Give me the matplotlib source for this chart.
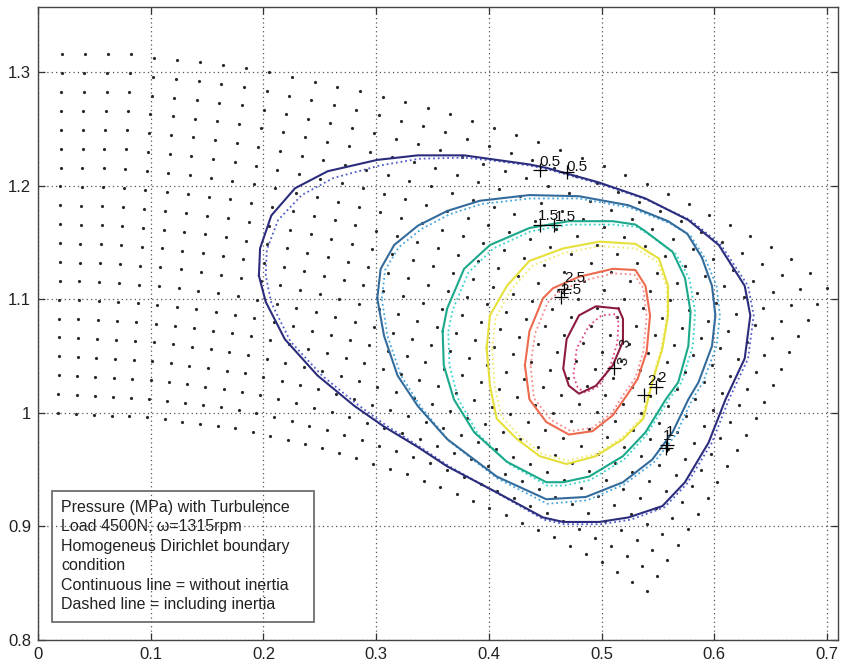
import matplotlib
matplotlib.use("Agg")

import matplotlib.pyplot as plt
from matplotlib.patches import Rectangle
import numpy as np

plt.rcParams['font.family'] = ['Liberation Sans', 'DejaVu Sans']

# ---- mesh boundary (node grid of the bearing film) ----
mesh_left_x = [0.018, 0.021]
mesh_left_y = [1.000, 1.316]
mesh_top_x = [0.021, 0.083, 0.103, 0.145, 0.186, 0.206, 0.288, 0.369, 0.448, 0.508, 0.565, 0.621, 0.675, 0.700]
mesh_top_y = [1.316, 1.316, 1.313, 1.309, 1.304, 1.300, 1.283, 1.263, 1.237, 1.216, 1.190, 1.162, 1.132, 1.110]
mesh_right_x = [0.540, 0.567, 0.601, 0.634, 0.670, 0.700]
mesh_right_y = [0.843, 0.883, 0.936, 0.990, 1.060, 1.110]
mesh_bottom_x = [0.018, 0.100, 0.180, 0.250, 0.325, 0.383, 0.457, 0.501, 0.540]
mesh_bottom_y = [1.000, 0.996, 0.986, 0.970, 0.947, 0.924, 0.891, 0.868, 0.843]
n_cols = 36
n_rows = 20

# ---- pressure contours (MPa): solid = without inertia, dotted = with inertia ----
levels = [0.5, 1.0, 1.5, 2.0, 2.5, 3.0]

x05 = [0.196, 0.197, 0.207, 0.228, 0.257, 0.301, 0.337, 0.378, 0.407, 0.436, 0.451, 0.498, 0.539, 0.577, 0.604, 0.627, 0.632, 0.627, 0.610, 0.595, 0.574, 0.554, 0.524, 0.498, 0.466, 0.448, 0.407, 0.363, 0.337, 0.307, 0.281, 0.248, 0.219, 0.202, 0.196]
y05 = [1.121, 1.145, 1.174, 1.198, 1.213, 1.223, 1.227, 1.227, 1.223, 1.219, 1.216, 1.203, 1.189, 1.170, 1.148, 1.112, 1.086, 1.048, 1.012, 0.974, 0.939, 0.918, 0.908, 0.904, 0.904, 0.908, 0.930, 0.953, 0.970, 0.988, 1.006, 1.033, 1.065, 1.098, 1.121]
xd05 = [0.202, 0.203, 0.213, 0.234, 0.262, 0.303, 0.338, 0.378, 0.407, 0.436, 0.451, 0.498, 0.540, 0.579, 0.606, 0.630, 0.635, 0.630, 0.613, 0.598, 0.576, 0.556, 0.526, 0.499, 0.467, 0.449, 0.408, 0.365, 0.339, 0.309, 0.284, 0.252, 0.224, 0.207, 0.202]
yd05 = [1.121, 1.144, 1.170, 1.192, 1.207, 1.218, 1.224, 1.225, 1.222, 1.218, 1.215, 1.202, 1.188, 1.170, 1.148, 1.112, 1.086, 1.048, 1.012, 0.974, 0.938, 0.917, 0.906, 0.902, 0.902, 0.906, 0.929, 0.953, 0.970, 0.989, 1.007, 1.033, 1.063, 1.097, 1.121]

x10 = [0.301, 0.304, 0.316, 0.337, 0.363, 0.392, 0.436, 0.480, 0.524, 0.559, 0.576, 0.589, 0.598, 0.601, 0.598, 0.586, 0.577, 0.563, 0.545, 0.519, 0.486, 0.451, 0.407, 0.363, 0.337, 0.319, 0.307, 0.301]
y10 = [1.101, 1.127, 1.148, 1.165, 1.178, 1.187, 1.192, 1.191, 1.183, 1.169, 1.158, 1.137, 1.112, 1.086, 1.059, 1.027, 1.012, 0.983, 0.959, 0.939, 0.926, 0.924, 0.944, 0.977, 1.006, 1.033, 1.068, 1.101]
xd10 = [0.305, 0.308, 0.320, 0.340, 0.365, 0.393, 0.436, 0.480, 0.525, 0.561, 0.579, 0.592, 0.602, 0.605, 0.602, 0.590, 0.580, 0.566, 0.547, 0.520, 0.487, 0.452, 0.408, 0.365, 0.340, 0.322, 0.310, 0.305]
yd10 = [1.101, 1.126, 1.146, 1.162, 1.175, 1.184, 1.189, 1.189, 1.181, 1.167, 1.156, 1.136, 1.112, 1.086, 1.059, 1.027, 1.011, 0.981, 0.957, 0.937, 0.923, 0.920, 0.942, 0.975, 1.005, 1.033, 1.068, 1.101]

x15 = [0.359, 0.363, 0.378, 0.401, 0.436, 0.471, 0.510, 0.530, 0.539, 0.563, 0.574, 0.579, 0.577, 0.568, 0.557, 0.539, 0.519, 0.489, 0.466, 0.451, 0.416, 0.387, 0.369, 0.360, 0.359]
y15 = [1.072, 1.092, 1.127, 1.148, 1.163, 1.169, 1.169, 1.166, 1.160, 1.142, 1.119, 1.089, 1.059, 1.027, 1.012, 0.983, 0.962, 0.944, 0.939, 0.939, 0.957, 0.983, 1.012, 1.042, 1.072]
xd15 = [0.364, 0.368, 0.382, 0.404, 0.437, 0.471, 0.510, 0.531, 0.541, 0.566, 0.578, 0.583, 0.581, 0.571, 0.559, 0.540, 0.520, 0.490, 0.467, 0.452, 0.418, 0.390, 0.373, 0.365, 0.364]
yd15 = [1.072, 1.091, 1.124, 1.145, 1.160, 1.166, 1.166, 1.164, 1.158, 1.140, 1.118, 1.089, 1.059, 1.027, 1.011, 0.981, 0.959, 0.941, 0.936, 0.936, 0.955, 0.982, 1.012, 1.042, 1.072]

x20 = [0.398, 0.401, 0.416, 0.436, 0.466, 0.498, 0.530, 0.551, 0.559, 0.559, 0.554, 0.545, 0.537, 0.519, 0.495, 0.469, 0.445, 0.425, 0.407, 0.401, 0.398]
y20 = [1.057, 1.086, 1.112, 1.134, 1.145, 1.151, 1.149, 1.136, 1.112, 1.086, 1.057, 1.027, 0.995, 0.977, 0.962, 0.955, 0.962, 0.977, 0.995, 1.024, 1.057]
xd20 = [0.403, 0.406, 0.420, 0.439, 0.467, 0.498, 0.530, 0.550, 0.558, 0.558, 0.553, 0.544, 0.536, 0.518, 0.495, 0.470, 0.447, 0.428, 0.411, 0.405, 0.403]
yd20 = [1.057, 1.084, 1.109, 1.130, 1.141, 1.147, 1.145, 1.133, 1.110, 1.085, 1.057, 1.027, 0.996, 0.978, 0.964, 0.958, 0.964, 0.979, 0.997, 1.025, 1.057]

x25 = [0.432, 0.436, 0.448, 0.457, 0.480, 0.510, 0.530, 0.539, 0.543, 0.540, 0.532, 0.522, 0.510, 0.492, 0.471, 0.451, 0.436, 0.432]
y25 = [1.042, 1.072, 1.101, 1.110, 1.120, 1.127, 1.126, 1.112, 1.086, 1.054, 1.030, 1.015, 0.998, 0.984, 0.981, 0.992, 1.012, 1.042]
xd25 = [0.437, 0.441, 0.452, 0.461, 0.482, 0.510, 0.529, 0.537, 0.540, 0.537, 0.530, 0.520, 0.509, 0.492, 0.473, 0.455, 0.440, 0.437]
yd25 = [1.042, 1.070, 1.097, 1.106, 1.116, 1.123, 1.122, 1.110, 1.085, 1.054, 1.031, 1.017, 1.000, 0.987, 0.984, 0.994, 1.013, 1.042]

x30 = [0.515, 0.495, 0.480, 0.469, 0.466, 0.471, 0.480, 0.495, 0.510, 0.519, 0.519, 0.515]
y30 = [1.092, 1.094, 1.086, 1.065, 1.039, 1.024, 1.017, 1.024, 1.042, 1.063, 1.083, 1.092]
xd30 = [0.512, 0.500, 0.489, 0.478, 0.475, 0.479, 0.486, 0.498, 0.508, 0.514, 0.515, 0.512]
yd30 = [1.087, 1.086, 1.077, 1.057, 1.033, 1.022, 1.018, 1.024, 1.042, 1.062, 1.080, 1.087]

solid_colors = ['#2b2d7c', '#336c9c', '#1aa98a', '#e6e03a', '#ee6a4e', '#8c1c3e']
dotted_colors = ['#4f5cc8', '#45a6dc', '#35d2cc', '#f0ea70', '#f58a8a', '#e0488a']

# clabel positions: (text x, text y, rotation) and '+' marks
label_text = ['0.5', '0.5', '1.5', '1.5', '2.5', '2.5', '2', '2', '3', '3', '1', '1']
label_x = [0.454, 0.478, 0.453, 0.468, 0.476, 0.473, 0.544, 0.553, 0.519, 0.521, 0.558, 0.561]
label_y = [1.221, 1.217, 1.174, 1.173, 1.119, 1.108, 1.028, 1.031, 1.046, 1.062, 0.980, 0.983]
label_rot = [0, 0, 0, 0, 0, 0, 0, 0, 78, 78, 0, 0]
plus_x = [0.445, 0.469, 0.445, 0.458, 0.464, 0.467, 0.538, 0.548, 0.511, 0.557, 0.558]
plus_y = [1.214, 1.212, 1.166, 1.166, 1.102, 1.109, 1.016, 1.023, 1.040, 0.969, 0.972]

x_ticks = [0, 0.1, 0.2, 0.3, 0.4, 0.5, 0.6, 0.7]
x_ticklabels = ['0', '0.1', '0.2', '0.3', '0.4', '0.5', '0.6', '0.7']
y_ticks = [0.8, 0.9, 1.0, 1.1, 1.2, 1.3]
y_ticklabels = ['0.8', '0.9', '1', '1.1', '1.2', '1.3']

info_lines = [
    "Pressure (MPa) with Turbulence",
    "Load 4500N; \u03c9=1315rpm",
    "Homogeneus Dirichlet boundary",
    "condition",
    "Continuous line = without inertia",
    "Dashed line = including inertia",
]


def resample(xs, ys, n):
    # spread n nodes evenly along a boundary polyline
    xs = np.asarray(xs, float)
    ys = np.asarray(ys, float)
    s = np.concatenate([[0], np.cumsum(np.hypot(np.diff(xs), np.diff(ys)))])
    t = np.linspace(0, s[-1], n)
    return np.column_stack([np.interp(t, s, xs), np.interp(t, s, ys)])


def mesh_nodes():
    B = resample(mesh_bottom_x, mesh_bottom_y, n_cols)
    T = resample(mesh_top_x, mesh_top_y, n_cols)
    L = resample(mesh_left_x, mesh_left_y, n_rows)
    R = resample(mesh_right_x, mesh_right_y, n_rows)
    u = np.linspace(0, 1, n_cols)[:, None, None]
    v = np.linspace(0, 1, n_rows)[None, :, None]
    P = ((1 - v) * B[:, None, :] + v * T[:, None, :]
         + (1 - u) * L[None, :, :] + u * R[None, :, :]
         - ((1 - u) * (1 - v) * B[0] + u * (1 - v) * B[-1]
            + (1 - u) * v * T[0] + u * v * T[-1]))
    return P[..., 0].ravel(), P[..., 1].ravel()


fig = plt.figure(figsize=(8.45, 6.67), dpi=100)
ax = fig.add_axes([0.045, 0.0405, 0.947, 0.9495])

mx, my = mesh_nodes()
ax.plot(mx, my, 'o', ms=2.3, color='#2a2a2a', mec='none', zorder=2)

solid = [(x05, y05), (x10, y10), (x15, y15), (x20, y20), (x25, y25), (x30, y30)]
dotted = [(xd05, yd05), (xd10, yd10), (xd15, yd15), (xd20, yd20), (xd25, yd25), (xd30, yd30)]
for k in range(len(levels)):
    ax.plot(dotted[k][0], dotted[k][1], linestyle=(0, (1, 1.6)), lw=1.3,
            color=dotted_colors[k], zorder=3)
    ax.plot(solid[k][0], solid[k][1], '-', lw=1.5, color=solid_colors[k], zorder=4)

ax.plot(plus_x, plus_y, '+', ms=10, mew=0.9, color='black', zorder=5)
for t, x, y, r in zip(label_text, label_x, label_y, label_rot):
    ax.text(x, y, t, fontsize=11, color='#111111', rotation=r,
            ha='center', va='center', zorder=6)

# info box
ax.add_patch(Rectangle((0.0123, 0.816), 0.2327, 0.115, fill=False,
                       edgecolor='#6e6e6e', lw=1.3, zorder=6))
for i, line in enumerate(info_lines):
    ax.text(0.0205, 0.917 - i * 0.0172, line, fontsize=11.5, color='#222222',
            ha='left', va='center', zorder=7)

ax.set_xlim(0, 0.71)
ax.set_ylim(0.8, 1.358)
ax.set_xticks(x_ticks)
ax.set_xticklabels(x_ticklabels)
ax.set_yticks(y_ticks)
ax.set_yticklabels(y_ticklabels)
ax.tick_params(direction='in', length=5, width=0.9, colors='#333333',
               labelsize=12, labelcolor='#222222', top=True, right=True, pad=5)
ax.grid(True, linestyle=(0, (1, 2.5)), color='#555555', lw=0.9)
ax.set_axisbelow(True)
for sp in ax.spines.values():
    sp.set_color('#444444')
    sp.set_linewidth(1.0)

fig.savefig("out.png", dpi=100)
plt.close(fig)
